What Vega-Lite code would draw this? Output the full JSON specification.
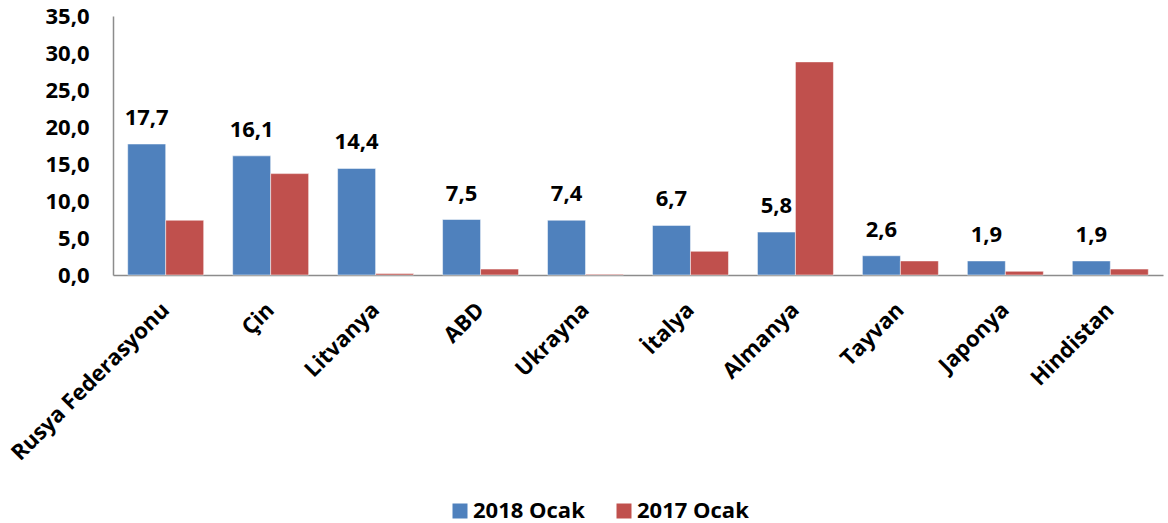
{
  "$schema": "https://vega.github.io/schema/vega-lite/v6.json",
  "width": 1050,
  "height": 259,
  "autosize": "none",
  "padding": {"left": 113, "top": 16, "right": 5, "bottom": 248},
  "config": {
    "locale": {"number": {"decimal": ",", "thousands": ".", "grouping": [3], "currency": ["", ""]}},
    "view": {"stroke": null},
    "font": "Open Sans"
  },
  "data": {
    "values": [
      {"ulke": "Rusya Federasyonu", "donem": "2018 Ocak", "deger": 17.7},
      {"ulke": "Rusya Federasyonu", "donem": "2017 Ocak", "deger": 7.4},
      {"ulke": "Çin", "donem": "2018 Ocak", "deger": 16.1},
      {"ulke": "Çin", "donem": "2017 Ocak", "deger": 13.7},
      {"ulke": "Litvanya", "donem": "2018 Ocak", "deger": 14.4},
      {"ulke": "Litvanya", "donem": "2017 Ocak", "deger": 0.2},
      {"ulke": "ABD", "donem": "2018 Ocak", "deger": 7.5},
      {"ulke": "ABD", "donem": "2017 Ocak", "deger": 0.8},
      {"ulke": "Ukrayna", "donem": "2018 Ocak", "deger": 7.4},
      {"ulke": "Ukrayna", "donem": "2017 Ocak", "deger": 0.1},
      {"ulke": "İtalya", "donem": "2018 Ocak", "deger": 6.7},
      {"ulke": "İtalya", "donem": "2017 Ocak", "deger": 3.2},
      {"ulke": "Almanya", "donem": "2018 Ocak", "deger": 5.8},
      {"ulke": "Almanya", "donem": "2017 Ocak", "deger": 28.8},
      {"ulke": "Tayvan", "donem": "2018 Ocak", "deger": 2.6},
      {"ulke": "Tayvan", "donem": "2017 Ocak", "deger": 1.9},
      {"ulke": "Japonya", "donem": "2018 Ocak", "deger": 1.9},
      {"ulke": "Japonya", "donem": "2017 Ocak", "deger": 0.5},
      {"ulke": "Hindistan", "donem": "2018 Ocak", "deger": 1.9},
      {"ulke": "Hindistan", "donem": "2017 Ocak", "deger": 0.8}
    ]
  },
  "encoding": {
    "x": {
      "field": "ulke",
      "type": "nominal",
      "sort": null,
      "scale": {"paddingInner": 0.276, "paddingOuter": 0.14},
      "axis": {
        "title": null,
        "labelAngle": -45,
        "labelAlign": "right",
        "labelBaseline": "middle",
        "labelFontSize": 22,
        "labelFontWeight": "bold",
        "labelColor": "#000000",
        "labelPadding": 31,
        "labelLimit": 400,
        "ticks": false,
        "domainColor": "#8c8c8c",
        "domainWidth": 1.5,
        "grid": false
      }
    },
    "xOffset": {
      "field": "donem",
      "type": "nominal",
      "scale": {"domain": ["2018 Ocak", "2017 Ocak"], "paddingInner": 0, "paddingOuter": 0}
    },
    "y": {
      "field": "deger",
      "type": "quantitative",
      "scale": {"domain": [0, 35], "nice": false},
      "axis": {
        "title": null,
        "values": [0, 5, 10, 15, 20, 25, 30, 35],
        "format": ".1f",
        "labelFontSize": 22,
        "labelFontWeight": "bold",
        "labelColor": "#000000",
        "labelPadding": 24,
        "ticks": false,
        "grid": false,
        "domainColor": "#8c8c8c",
        "domainWidth": 1.5
      }
    }
  },
  "layer": [
    {
      "mark": {"type": "bar", "stroke": "#ffffff", "strokeWidth": 0.5},
      "encoding": {
        "color": {
          "field": "donem",
          "type": "nominal",
          "scale": {"domain": ["2018 Ocak", "2017 Ocak"], "range": ["#4F81BD", "#C0504D"]},
          "legend": {
            "title": null,
            "orient": "none",
            "direction": "horizontal",
            "legendX": 336,
            "legendY": 484,
            "symbolType": "square",
            "symbolSize": 225,
            "symbolStrokeWidth": 0,
            "labelFontSize": 22,
            "labelFontWeight": "bold",
            "labelColor": "#000000",
            "labelOffset": 2,
            "labelLimit": 300,
            "columnPadding": 28
          }
        }
      }
    },
    {
      "transform": [{"filter": "datum.donem === '2018 Ocak'"}],
      "mark": {"type": "text", "baseline": "alphabetic", "dy": -19, "fontSize": 22, "fontWeight": "bold", "color": "#000000"},
      "encoding": {
        "text": {"field": "deger", "type": "quantitative", "format": ".1f"}
      }
    }
  ]
}
